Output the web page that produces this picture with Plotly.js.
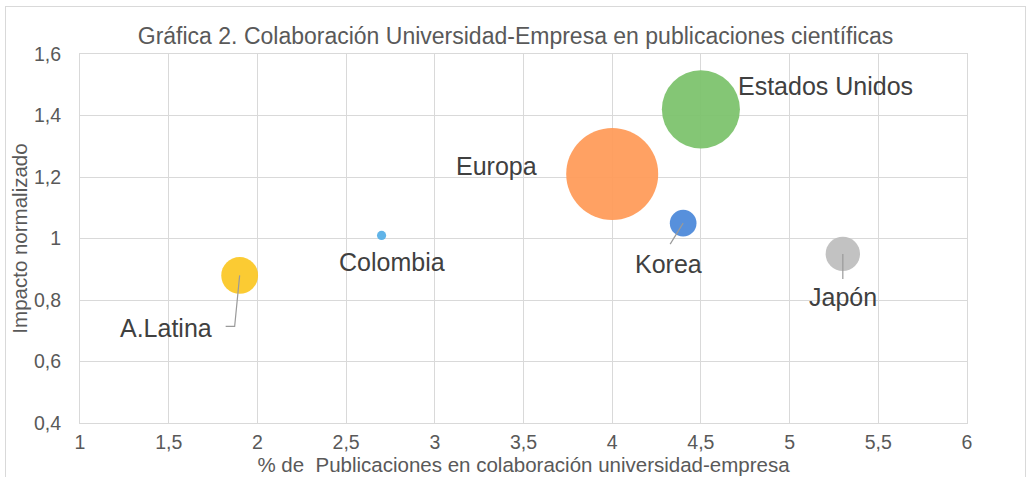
<!DOCTYPE html>
<html>
<head>
<meta charset="utf-8">
<script src="https://cdn.plot.ly/plotly-3.0.1.min.js"></script>
<style>
  html, body { margin: 0; padding: 0; background: #fff; }
  #wrap { position: relative; width: 1026px; height: 477px; overflow: hidden; }
  #chart { position: absolute; left: 0; top: 0; width: 1026px; height: 477px; }
  #frame { position: absolute; left: 5px; top: 6px; width: 1019px; height: 500px;
           border: 1px solid #d9d9d9; pointer-events: none; }
</style>
</head>
<body>
<div id="wrap">
  <div id="chart"></div>
  <div id="frame"></div>
</div>
<script>
// Data
const regions = ["Colombia", "A.Latina", "Europa", "Estados Unidos", "Korea", "Japón"];
const pctCollab = [2.7, 1.9, 4.0, 4.5, 4.4, 5.3];          // % publicaciones en colaboración
const impact = [1.01, 0.88, 1.21, 1.42, 1.05, 0.95];       // impacto normalizado
const bubbleSize = [1, 16, 100, 72, 8.4, 14];              // relative bubble size (area)
const colors = ["#55aee6", "#fbc723", "#ff9a57", "#7bc26b", "#4a88d9", "#bdbdbd"];

const xTicks = [1, 1.5, 2, 2.5, 3, 3.5, 4, 4.5, 5, 5.5, 6];
const yTicks = [0.4, 0.6, 0.8, 1, 1.2, 1.4, 1.6];
const fmt = v => String(v).replace('.', ',');

// label placement (pixel offsets from each bubble centre) and leader lines
const labelCfg = {
  "Colombia":       {xanchor: "center", xshift: 10,  yshift: -27},
  "A.Latina":       {xanchor: "right",  xshift: -26, yshift: -53},
  "Europa":         {xanchor: "right",  xshift: -73, yshift: 8},
  "Estados Unidos": {xanchor: "left",   xshift: 35,  yshift: 23},
  "Korea":          {xanchor: "center", xshift: -15, yshift: -41},
  "Japón":          {xanchor: "center", xshift: 0,   yshift: -43}
};
const leaders = {
  "A.Latina": "M0,0 L-5,-51 L-14,-51",
  "Korea": "M0,0 L-13,-21",
  "Japón": "M0,0 L0,-25"
};

const traces = regions.map((r, i) => ({
  type: "scatter",
  mode: "markers",
  name: r,
  x: [pctCollab[i]],
  y: [impact[i]],
  marker: {
    size: [bubbleSize[i]],
    sizemode: "area",
    sizeref: 50 / (46 * 46),
    color: colors[i],
    opacity: 0.93,
    line: {width: 0}
  },
  hoverinfo: "x+y+name"
}));

const annotations = regions.map((r, i) => ({
  x: pctCollab[i], y: impact[i], xref: "x", yref: "y",
  text: r, showarrow: false,
  xanchor: labelCfg[r].xanchor, yanchor: "middle",
  xshift: labelCfg[r].xshift, yshift: labelCfg[r].yshift,
  font: {family: "Liberation Sans, Arial, sans-serif", size: 25, color: "#404040"}
}));

const shapes = regions.filter(r => leaders[r]).map(r => {
  const i = regions.indexOf(r);
  return {
    type: "path", xref: "x", yref: "y",
    xsizemode: "pixel", ysizemode: "pixel",
    xanchor: pctCollab[i], yanchor: impact[i],
    path: leaders[r],
    line: {color: "#9a9a9a", width: 1.2},
    layer: "above"
  };
});

const tickFont = {family: "Liberation Sans, Arial, sans-serif", size: 19.5, color: "#595959"};
const titleFont = {family: "Liberation Sans, Arial, sans-serif", size: 20.5, color: "#595959"};

const layout = {
  width: 1026, height: 477,
  margin: {l: 80, r: 59, t: 54, b: 54},
  paper_bgcolor: "#ffffff",
  plot_bgcolor: "#ffffff",
  showlegend: false,
  title: {
    text: "Gráfica 2. Colaboración Universidad-Empresa en publicaciones científicas",
    font: {family: "Liberation Sans, Arial, sans-serif", size: 23, color: "#595959"},
    x: 0.5025, xanchor: "center", xref: "container",
    y: 0.925, yanchor: "middle", yref: "container"
  },
  xaxis: {
    range: [1, 6],
    tickvals: xTicks, ticktext: xTicks.map(fmt),
    showgrid: true, gridcolor: "#d9d9d9", gridwidth: 1,
    zeroline: false, showline: true, linecolor: "#d9d9d9", linewidth: 1, mirror: true,
    ticks: "", ticklabelstandoff: 2,
    tickfont: tickFont,
    title: {text: "% de  Publicaciones en colaboración universidad-empresa",
            font: titleFont, standoff: 4}
  },
  yaxis: {
    range: [0.4, 1.6],
    tickvals: yTicks, ticktext: yTicks.map(fmt),
    showgrid: true, gridcolor: "#d9d9d9", gridwidth: 1,
    zeroline: false, showline: true, linecolor: "#d9d9d9", linewidth: 1, mirror: true,
    ticks: "", ticklabelstandoff: 14,
    tickfont: tickFont,
    title: {text: "Impacto normalizado", font: titleFont, standoff: 0}
  },
  annotations: annotations,
  shapes: shapes
};

Plotly.newPlot("chart", traces, layout, {staticPlot: true, displayModeBar: false});
</script>
</body>
</html>
